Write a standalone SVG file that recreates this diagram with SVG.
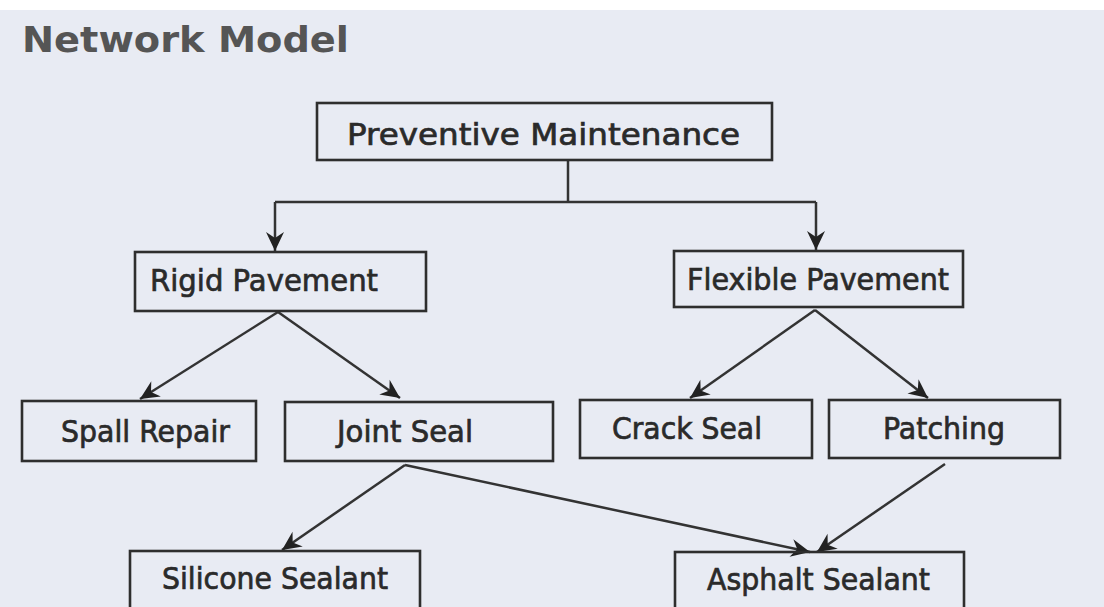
<svg xmlns="http://www.w3.org/2000/svg" width="1104" height="607" viewBox="0 0 1104 607">
  <style>
    .box { fill: none; stroke: #2e2e2e; stroke-width: 2.6; }
    .lbl { font-family: "DejaVu Sans", "Liberation Sans", sans-serif; font-size: 30px; fill: #2a2a2a; stroke: #2a2a2a; stroke-width: 0.7; }
    .title { font-family: "DejaVu Sans", "Liberation Sans", sans-serif; font-size: 35px; font-weight: bold; fill: #555; }
    .edge { fill: none; stroke: #333; stroke-width: 2.5; }
  </style>
  <defs>
    <marker id="arrow" viewBox="-20 -10 22 20" refX="0" refY="0" markerWidth="22" markerHeight="20" markerUnits="userSpaceOnUse" orient="auto">
      <path d="M0,0 L-19,-9 L-13,0 L-19,9 Z" fill="#222"/>
    </marker>
  </defs>

  <!-- page -->
  <rect x="0" y="0" width="1104" height="607" fill="#e8ebf3"/>
  <rect x="0" y="0" width="1104" height="10" fill="#ffffff"/>

  <text class="title" x="22" y="52" textLength="327" lengthAdjust="spacingAndGlyphs">Network Model</text>

  <!-- connectors -->
  <g id="connectors">
    <path class="edge" d="M568,160 V202"/>
    <path class="edge" d="M275,202 H816"/>
    <path class="edge" d="M275,202 V251" marker-end="url(#arrow)"/>
    <path class="edge" d="M816,202 V250" marker-end="url(#arrow)"/>
    <path class="edge" d="M278,312 L140,399" marker-end="url(#arrow)"/>
    <path class="edge" d="M278,312 L400,398" marker-end="url(#arrow)"/>
    <path class="edge" d="M815,310 L690,398" marker-end="url(#arrow)"/>
    <path class="edge" d="M815,310 L928,398" marker-end="url(#arrow)"/>
    <path class="edge" d="M405,465 L282,550" marker-end="url(#arrow)"/>
    <path class="edge" d="M405,465 L810,552" marker-end="url(#arrow)"/>
    <path class="edge" d="M945,464 L817,552" marker-end="url(#arrow)"/>
  </g>

  <g id="preventive-maintenance">
    <rect class="box" x="317" y="103" width="455" height="57"/>
    <text class="lbl" x="347" y="145" textLength="393" lengthAdjust="spacingAndGlyphs">Preventive Maintenance</text>
  </g>
  <g id="rigid-pavement">
    <rect class="box" x="135" y="252" width="291" height="59"/>
    <text class="lbl" x="150" y="291" textLength="228" lengthAdjust="spacingAndGlyphs">Rigid Pavement</text>
  </g>
  <g id="flexible-pavement">
    <rect class="box" x="674" y="251" width="289" height="56"/>
    <text class="lbl" x="687" y="290" textLength="262" lengthAdjust="spacingAndGlyphs">Flexible Pavement</text>
  </g>
  <g id="spall-repair">
    <rect class="box" x="22" y="401" width="234" height="60"/>
    <text class="lbl" x="61" y="442" textLength="169" lengthAdjust="spacingAndGlyphs">Spall Repair</text>
  </g>
  <g id="joint-seal">
    <rect class="box" x="285" y="402" width="268" height="59"/>
    <text class="lbl" x="337" y="442" textLength="136" lengthAdjust="spacingAndGlyphs">Joint Seal</text>
  </g>
  <g id="crack-seal">
    <rect class="box" x="580" y="400" width="232" height="58"/>
    <text class="lbl" x="612" y="439" textLength="150" lengthAdjust="spacingAndGlyphs">Crack Seal</text>
  </g>
  <g id="patching">
    <rect class="box" x="829" y="400" width="231" height="58"/>
    <text class="lbl" x="883" y="439" textLength="122" lengthAdjust="spacingAndGlyphs">Patching</text>
  </g>
  <g id="silicone-sealant">
    <rect class="box" x="130" y="551" width="290" height="70"/>
    <text class="lbl" x="162" y="589" textLength="226" lengthAdjust="spacingAndGlyphs">Silicone Sealant</text>
  </g>
  <g id="asphalt-sealant">
    <rect class="box" x="675" y="552" width="289" height="70"/>
    <text class="lbl" x="707" y="590" textLength="223" lengthAdjust="spacingAndGlyphs">Asphalt Sealant</text>
  </g>
</svg>
